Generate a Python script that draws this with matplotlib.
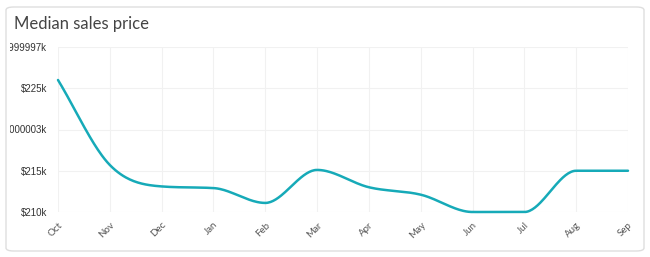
import numpy as np
import matplotlib.pyplot as plt
from matplotlib.patches import FancyBboxPatch
from matplotlib.transforms import Bbox

months = ['Oct', 'Nov', 'Dec', 'Jan', 'Feb', 'Mar', 'Apr', 'May', 'Jun', 'Jul', 'Aug', 'Sep']
price_k = [226.0, 215.7, 213.1, 212.9, 211.1, 215.1, 213.0, 212.1, 210.0, 210.0, 215.0, 215.0]
ytick_vals = [210, 215, 220, 225, 230]
ytick_labels = ['$210k', '$215k', '$220.000003k', '$225k', '$229.999997k']


def monotone_curve(x, y, n=40):
    # Fritsch-Carlson monotone cubic, like chart.js "monotone"
    x = np.asarray(x, float)
    y = np.asarray(y, float)
    h = np.diff(x)
    d = np.diff(y) / h
    m = np.zeros_like(y)
    m[0], m[-1] = d[0], d[-1]
    for i in range(1, len(y) - 1):
        if d[i - 1] * d[i] <= 0:
            m[i] = 0
        else:
            m[i] = (d[i - 1] + d[i]) / 2
    for i in range(len(d)):
        if d[i] == 0:
            m[i] = m[i + 1] = 0
        else:
            a, b = m[i] / d[i], m[i + 1] / d[i]
            s = a * a + b * b
            if s > 9:
                t = 3 / np.sqrt(s)
                m[i], m[i + 1] = t * a * d[i], t * b * d[i]
    xs, ys = [], []
    for i in range(len(d)):
        t = np.linspace(0, 1, n)
        h00 = 2 * t**3 - 3 * t**2 + 1
        h10 = t**3 - 2 * t**2 + t
        h01 = -2 * t**3 + 3 * t**2
        h11 = t**3 - t**2
        xs.append(x[i] + t * h[i])
        ys.append(h00 * y[i] + h10 * h[i] * m[i] + h01 * y[i + 1] + h11 * h[i] * m[i + 1])
    return np.concatenate(xs), np.concatenate(ys)


plt.rcParams['font.family'] = ['Lato', 'DejaVu Sans']
fig = plt.figure(figsize=(6.5, 2.57), dpi=100)

card = FancyBboxPatch((6 / 650, 6 / 257), 638 / 650, 244 / 257,
                      boxstyle='round,pad=0,rounding_size=0.012',
                      transform=fig.transFigure, facecolor='white',
                      edgecolor='#dedede', linewidth=1, zorder=-5)
fig.patches.append(card)
fig.text(14 / 650, 1 - 24 / 257, 'Median sales price', fontsize=12,
         color='#444444', va='center', ha='left')

ax = fig.add_axes([58 / 650, 1 - 212 / 257, 570 / 650, 165 / 257])
ax.patch.set_alpha(0)
x = np.arange(len(months))
cx, cy = monotone_curve(x, price_k)
ax.plot(cx, cy, color='#16aab8', linewidth=1.8, solid_capstyle='round', clip_on=False)

ax.set_xlim(0, len(months) - 1)
ax.set_ylim(210, 230)
ax.set_xticks(x)
ax.set_xticklabels(months, rotation=45, ha='right', rotation_mode='anchor',
                   fontsize=7, color='#555555')
ax.set_yticks(ytick_vals)
ax.set_yticklabels(ytick_labels, fontsize=7, color='#333333',
                   family=['Liberation Sans', 'DejaVu Sans'])
ax.tick_params(axis='both', length=0)
ax.tick_params(axis='y', pad=8)
ax.tick_params(axis='x', pad=6)
ax.grid(True, color='#f1f1f1', linewidth=0.8)
for s in ax.spines.values():
    s.set_visible(False)

# clip long y labels at the card edge like the original
clip = Bbox.from_extents(10, 0, 650, 257)
for lbl in ax.get_yticklabels():
    lbl.set_clip_box(clip)
    lbl.set_clip_on(True)

fig.savefig('out.png', dpi=100)
